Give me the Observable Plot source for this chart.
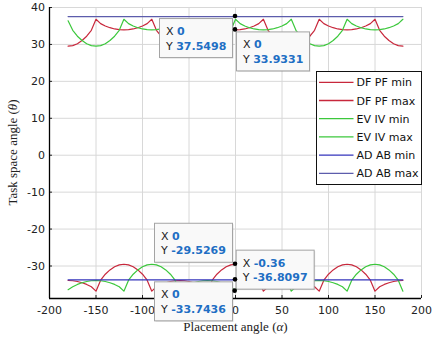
<!DOCTYPE html>
<html><head><meta charset="utf-8">
<script src="https://cdn.jsdelivr.net/npm/d3@7"></script>
<script src="https://cdn.jsdelivr.net/npm/@observablehq/plot@0.6"></script>
<style>
html,body{margin:0;padding:0;background:#fff;}
#chart{width:435px;height:339px;}
</style></head><body><div id="chart"></div>
<script>
// ---- data ----
const angles = [-180,-175,-170,-165,-160,-155,-150,-145,-140,-135,-130,-125,-120,-115,-110,-105,-100,-95,-90,-85,-80,-75,-70,-65,-60,-55,-50,-45,-40,-35,-30,-25,-20,-15,-10,-5,0,5,10,15,20,25,30,35,40,45,50,55,60,65,70,75,80,85,90,95,100,105,110,115,120,125,130,135,140,145,150,155,160,165,170,175,180];

const dfpfMax = [29.53,29.68,30.19,31.06,32.22,33.83,36.81,
  35.63,34.99,34.53,34.19,33.99,33.93,33.99,34.19,34.53,34.99,35.63,36.81,
  33.83,32.22,31.06,30.19,29.68,29.53,29.68,30.19,31.06,32.22,33.83,36.81,
  35.63,34.99,34.53,34.19,33.99,33.93,33.99,34.19,34.53,34.99,35.63,36.81,
  33.83,32.22,31.06,30.19,29.68,29.53,29.68,30.19,31.06,32.22,33.83,36.81,
  35.63,34.99,34.53,34.19,33.99,33.93,33.99,34.19,34.53,34.99,35.63,36.81,
  33.83,32.22,31.06,30.19,29.68,29.53];

const evivMax = [36.4,
  33.83,32.22,31.06,30.19,29.68,29.53,29.68,30.19,31.06,32.22,33.83,36.81,
  35.63,34.99,34.53,34.19,33.99,33.93,33.99,34.19,34.53,34.99,35.63,36.81,
  33.83,32.22,31.06,30.19,29.68,29.53,29.68,30.19,31.06,32.22,33.83,36.81,
  35.63,34.99,34.53,34.19,33.99,33.93,33.99,34.19,34.53,34.99,35.63,36.81,
  33.83,32.22,31.06,30.19,29.68,29.53,29.68,30.19,31.06,32.22,33.83,36.81,
  35.63,34.99,34.53,34.19,33.99,33.93,33.99,34.19,34.53,34.99,35.63,36.81];

const dfpfMin = [-33.93,-33.99,-34.19,-34.53,-34.99,-35.63,-36.81,
  -33.83,-32.22,-31.06,-30.19,-29.68,-29.53,-29.68,-30.19,-31.06,-32.22,-33.83,-36.81,
  -35.63,-34.99,-34.53,-34.19,-33.99,-33.93,-33.99,-34.19,-34.53,-34.99,-35.63,-36.81,
  -33.83,-32.22,-31.06,-30.19,-29.68,-29.53,-29.68,-30.19,-31.06,-32.22,-33.83,-36.81,
  -35.63,-34.99,-34.53,-34.19,-33.99,-33.93,-33.99,-34.19,-34.53,-34.99,-35.63,-36.81,
  -33.83,-32.22,-31.06,-30.19,-29.68,-29.53,-29.68,-30.19,-31.06,-32.22,-33.83,-36.81,
  -35.63,-34.99,-34.53,-34.19,-33.99,-33.93];

const evivMin = [-36.4,
  -35.63,-34.99,-34.53,-34.19,-33.99,-33.93,-33.99,-34.19,-34.53,-34.99,-35.63,-36.81,
  -33.83,-32.22,-31.06,-30.19,-29.68,-29.53,-29.68,-30.19,-31.06,-32.22,-33.83,-36.81,
  -35.63,-34.99,-34.53,-34.19,-33.99,-33.93,-33.99,-34.19,-34.53,-34.99,-35.63,-36.81,
  -33.83,-32.22,-31.06,-30.19,-29.68,-29.53,-29.68,-30.19,-31.06,-32.22,-33.83,-36.81,
  -35.63,-34.99,-34.53,-34.19,-33.99,-33.93,-33.99,-34.19,-34.53,-34.99,-35.63,-36.81,
  -33.83,-32.22,-31.06,-30.19,-29.68,-29.53,-29.68,-30.19,-31.06,-32.22,-33.83,-36.81];

const adabAngles = [-180, 180];
const adabMin = [-33.7436, -33.7436];
const adabMax = [37.5498, 37.5498];

const seriesNames = ["DF PF min","DF PF max","EV IV min","EV IV max","AD AB min","AD AB max"];
const xTicks = [-200,-150,-100,-50,0,50,100,150,200];
const yTicks = [-30,-20,-10,0,10,20,30,40];
const xDomain = [-200, 200];
const yDomain = [-38.8, 40];

const tipX = [0, 0, 0, 0, -0.36];
const tipY = [37.5498, 33.9331, -29.5269, -33.7436, -36.8097];
const tipXLabel = ["0","0","0","0","-0.36"];
const tipYLabel = ["37.5498","33.9331","-29.5269","-33.7436","-36.8097"];

const xTitle = "Placement angle (";
const xSym = "α";
const yTitle = "Task space angle (";
const ySym = "θ";

// ---- styling ----
const RED = "#c8283c", GREEN = "#3cc83c", BLUE_MIN = "#3434bc", BLUE_MAX = "#5c5cac";
const colors = [RED, RED, GREEN, GREEN, BLUE_MIN, BLUE_MAX];
const seriesX = [angles, angles, angles, angles, adabAngles, adabAngles];
const seriesY = [dfpfMin, dfpfMax, evivMin, evivMax, adabMin, adabMax];

const rows = seriesNames.flatMap((name, k) =>
  seriesX[k].map((x, i) => ({name, x, y: seriesY[k][i]})));

const fmt = d => String(d);

const plot = Plot.plot({
  width: 435, height: 339,
  marginLeft: 49, marginRight: 14, marginTop: 7, marginBottom: 41,
  x: {domain: xDomain},
  y: {domain: yDomain},
  style: {fontFamily: "DejaVu Sans", fontSize: "11px", color: "#222", background: "white"},
  marks: [
    Plot.gridX(xTicks, {stroke: "#d8d8d8", strokeOpacity: 1}),
    Plot.gridY(yTicks, {stroke: "#d8d8d8", strokeOpacity: 1}),
    Plot.axisX(xTicks, {tickSize: -3, tickPadding: 11, tickFormat: fmt, label: null, fontSize: 11}),
    Plot.axisY(yTicks, {tickSize: -3, tickPadding: 7.5, tickFormat: fmt, label: null, fontSize: 11}),
    ...seriesNames.map((name, k) =>
      Plot.line(rows.filter(r => r.name === name), {x: "x", y: "y", stroke: colors[k], strokeWidth: 1.2})),
    Plot.ruleX([xDomain[0]], {stroke: "#000", strokeWidth: 1.3}),
    Plot.ruleY([yDomain[0]], {stroke: "#000", strokeWidth: 1.3})
  ]
});
document.getElementById("chart").appendChild(plot);

const svg = d3.select(plot);
const sx = plot.scale("x"), sy = plot.scale("y");

// axis titles
const xt = svg.append("text").attr("x", 235.5).attr("y", 331).attr("text-anchor", "middle")
  .attr("font-family", "Liberation Serif").attr("font-size", 13).attr("fill", "#222");
xt.append("tspan").text(xTitle);
xt.append("tspan").attr("font-style", "italic").text(xSym);
xt.append("tspan").text(")");
const yt = svg.append("text").attr("transform", "translate(17,152.5) rotate(-90)").attr("text-anchor", "middle")
  .attr("font-family", "Liberation Serif").attr("font-size", 13).attr("fill", "#222");
yt.append("tspan").text(yTitle);
yt.append("tspan").attr("font-style", "italic").text(ySym);
yt.append("tspan").text(")");

// legend
const lg = svg.append("g").attr("font-family", "DejaVu Sans").attr("font-size", 11).attr("text-anchor", "start");
lg.append("rect").attr("x", 316.5).attr("y", 71.5).attr("width", 105).attr("height", 113)
  .attr("fill", "white").attr("stroke", "#111").attr("stroke-width", 1);
seriesNames.forEach((name, k) => {
  const cy = 82.3 + k * 18.2;
  lg.append("line").attr("x1", 319).attr("x2", 353.5).attr("y1", cy).attr("y2", cy)
    .attr("stroke", colors[k]).attr("stroke-width", 1.3);
  lg.append("text").attr("x", 356.5).attr("y", cy + 4).attr("fill", "#111").text(name);
});

// data tips
const placements = ["bl", "br", "tl", "bl", "tr"];
const tipLayer = svg.append("g").attr("font-family", "DejaVu Sans").attr("font-size", 11).attr("text-anchor", "start");
const dots = [];
tipX.forEach((xv, i) => {
  const px = sx.apply(xv), py = sy.apply(tipY[i]);
  dots.push([px, py]);
  const g = tipLayer.append("g");
  const shadow = g.append("rect");
  const box = g.append("rect");
  const t1 = g.append("text").attr("fill", "#222");
  t1.append("tspan").text("X ");
  t1.append("tspan").attr("font-weight", "bold").attr("fill", "#1f6fc4").text(tipXLabel[i]);
  const t2 = g.append("text").attr("fill", "#222");
  t2.append("tspan").text("Y ");
  t2.append("tspan").attr("font-weight", "bold").attr("fill", "#1f6fc4").text(tipYLabel[i]);
  const tw = Math.max(t1.node().getComputedTextLength(), t2.node().getComputedTextLength());
  const w = Math.round(tw + 13), h = 39;
  const p = placements[i];
  const left = p[1] === "l" ? px - 3 - w : px + 1;
  const top = p[0] === "b" ? py + 2 : py - 2 - h;
  shadow.attr("x", left + 1.5).attr("y", top + 1.5).attr("width", w).attr("height", h)
    .attr("fill", "#000").attr("opacity", 0.12);
  box.attr("x", left + 0.5).attr("y", top + 0.5).attr("width", w).attr("height", h)
    .attr("fill", "#f9f9f9").attr("stroke", "#a4a4a4").attr("stroke-width", 1);
  t1.attr("x", left + 7).attr("y", top + 17);
  t2.attr("x", left + 7).attr("y", top + 31.5);
});
dots.forEach(([px, py]) => {
  tipLayer.append("circle").attr("cx", px).attr("cy", py).attr("r", 2.3).attr("fill", "#000");
});
</script>
</body></html>
